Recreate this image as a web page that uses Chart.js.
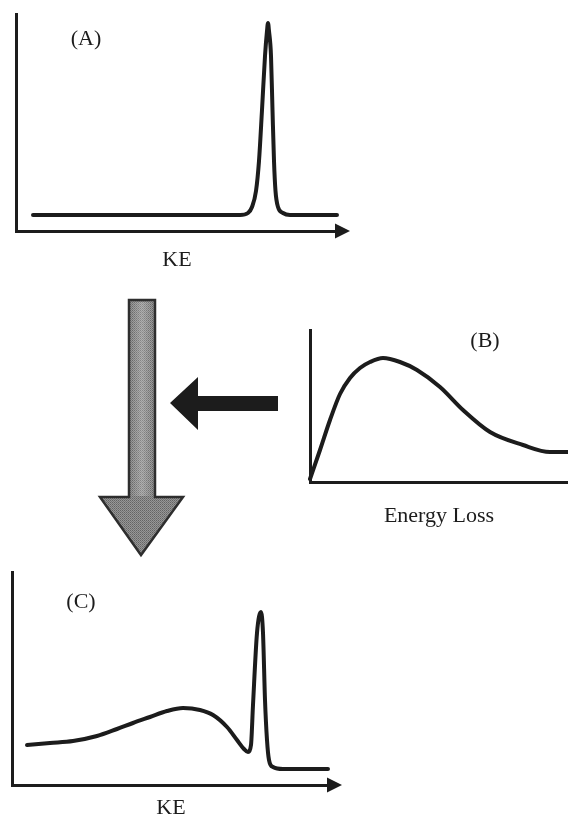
<!DOCTYPE html>
<html>
<head>
  <title>Energy loss sketch</title>
  <script src="https://cdn.jsdelivr.net/npm/chart.js"></script>
  <style>
    html, body {
        margin: 0;
        padding: 0;
        background: #ffffff;
        overflow: hidden;
        width: 568px;
        height: 817px;
    }
    canvas, svg {
        position: absolute;
    }
    #chartA { left: 0; top: 0; }
    #chartB { left: 290px; top: 310px; }
    #chartC { left: 0; top: 560px; }
    #arrows { left: 0; top: 0; }
  </style>
</head>
<body>

<!-- big grey "convolve" arrow and the black arrow coming from (B) -->
<svg id="arrows" width="568" height="817">
  <defs>
    <pattern id="stipple" width="2" height="2" patternUnits="userSpaceOnUse">
      <rect width="2" height="2" fill="#979797"/>
      <rect x="0" y="0" width="1" height="1" fill="#646464"/>
      <rect x="1" y="1" width="1" height="1" fill="#767676"/>
    </pattern>
    <linearGradient id="sheen" x1="0" y1="0" x2="1" y2="0">
      <stop offset="0" stop-color="#ffffff" stop-opacity="0"/>
      <stop offset="0.5" stop-color="#ffffff" stop-opacity="0.25"/>
      <stop offset="1" stop-color="#ffffff" stop-opacity="0"/>
    </linearGradient>
  </defs>
  <polygon points="129,300 155,300 155,497 183,497 141,555 100,497 129,497"
           fill="url(#stipple)" stroke="#2e2e2e" stroke-width="2.5" stroke-linejoin="miter"/>
  <rect x="131" y="302" width="22" height="194" fill="url(#sheen)"/>
  <polygon points="278,396 278,411 198,411 198,430 170,403 198,377 198,396" fill="#1c1c1c"/>
</svg>

<canvas id="chartA" width="360" height="274"></canvas>
<canvas id="chartB" width="278" height="220"></canvas>
<canvas id="chartC" width="360" height="262"></canvas>

<script>
  // (A) primary peak vs kinetic energy
  const panelAx = [17, 184, 224, 232, 236, 240, 243, 246, 249, 251, 252, 253, 255, 256.5, 258, 259.5, 262, 267, 274, 321];
  const panelAy = [16, 16, 16, 18, 24, 40, 70, 121, 175, 200, 208, 200, 175, 121, 70, 40, 24, 18, 16, 16];

  // (B) energy loss distribution
  const panelBx = [0, 10, 20, 30, 40, 50, 60, 73, 90, 107, 130, 153, 180, 213, 240, 258];
  const panelBy = [3, 32, 62, 88, 104, 114, 120, 124, 120, 112, 95, 72, 50, 37, 30, 30];

  // (C) measured spectrum: peak plus loss tail
  const panelCx = [15, 38, 61, 85, 105, 121, 138, 155, 171, 188, 201, 215, 225, 232, 236, 239, 241, 245, 249, 251, 253, 255, 257, 261, 271, 316];
  const panelCy = [40, 42, 44, 49, 56, 62, 68, 74, 77, 75, 70, 58, 45, 36, 33, 40, 80, 152, 173, 152, 85, 45, 25, 18, 16, 16];

  const ink = '#1c1c1c';
  const serif = 'Liberation Serif, Times New Roman, serif';

  function toPoints(xs, ys) {
      return xs.map((x, i) => ({ x: x, y: ys[i] }));
  }

  // arrow head at the end of the x axis + panel letter
  const sketchPlugin = {
      id: 'sketch',
      afterDraw(chart, args, opts) {
          const ctx = chart.ctx;
          const area = chart.chartArea;
          const yAxis = area.bottom;
          ctx.save();
          if (opts.arrow) {
              const tip = area.right + 12;
              ctx.fillStyle = ink;
              ctx.beginPath();
              ctx.moveTo(tip, yAxis);
              ctx.lineTo(tip - 15, yAxis - 7.5);
              ctx.lineTo(tip - 15, yAxis + 7.5);
              ctx.closePath();
              ctx.fill();
          }
          if (opts.label) {
              const px = chart.scales.x.getPixelForValue(opts.label.x);
              const py = chart.scales.y.getPixelForValue(opts.label.y);
              ctx.fillStyle = ink;
              ctx.font = '22px ' + serif;
              ctx.textAlign = 'center';
              ctx.textBaseline = 'middle';
              ctx.fillText(opts.label.text, px, py);
          }
          ctx.restore();
      }
  };

  function makePanel(id, xs, ys, cfg) {
      new Chart(document.getElementById(id), {
          type: 'line',
          data: {
              datasets: [{
                  data: toPoints(xs, ys),
                  borderColor: ink,
                  borderWidth: 4,
                  pointRadius: 0,
                  cubicInterpolationMode: cfg.smooth,
                  tension: 0.4,
                  borderCapStyle: 'round',
                  borderJoinStyle: 'round',
                  clip: false
              }]
          },
          options: {
              responsive: false,
              animation: false,
              layout: { padding: cfg.padding },
              plugins: {
                  legend: { display: false },
                  tooltip: { enabled: false },
                  sketch: { arrow: cfg.arrow, label: cfg.label }
              },
              scales: {
                  x: {
                      type: 'linear',
                      min: 0,
                      max: cfg.xMax,
                      grid: { display: false, drawTicks: false },
                      ticks: { display: false },
                      border: { display: true, color: ink, width: 3 },
                      title: {
                          display: true,
                          text: cfg.xTitle,
                          color: ink,
                          font: { family: serif, size: 22, lineHeight: 1.2 },
                          padding: { top: cfg.titleGap, bottom: 0 }
                      }
                  },
                  y: {
                      type: 'linear',
                      min: 0,
                      max: cfg.yMax,
                      grid: { display: false, drawTicks: false },
                      ticks: { display: false },
                      border: { display: true, color: ink, width: 3 }
                  }
              }
          },
          plugins: [sketchPlugin]
      });
  }

  makePanel('chartA', panelAx, panelAy, {
      xMax: 322, yMax: 217, xTitle: 'KE', titleGap: 15.8, arrow: true, smooth: 'monotone',
      padding: { left: 16, top: 14, right: 22, bottom: 0.8 },
      label: { text: '(A)', x: 70, y: 192 }
  });

  makePanel('chartB', panelBx, panelBy, {
      xMax: 258, yMax: 152, xTitle: 'Energy Loss', titleGap: 20.8, arrow: false, smooth: 'monotone',
      padding: { left: 20, top: 20, right: 0, bottom: 0.8 },
      label: { text: '(B)', x: 175, y: 141 }
  });

  makePanel('chartC', panelCx, panelCy, {
      xMax: 318, yMax: 213, xTitle: 'KE', titleGap: 9.8, arrow: true, smooth: 'monotone',
      padding: { left: 12, top: 12, right: 30, bottom: 0.8 },
      label: { text: '(C)', x: 69, y: 183 }
  });
</script>
</body>
</html>
